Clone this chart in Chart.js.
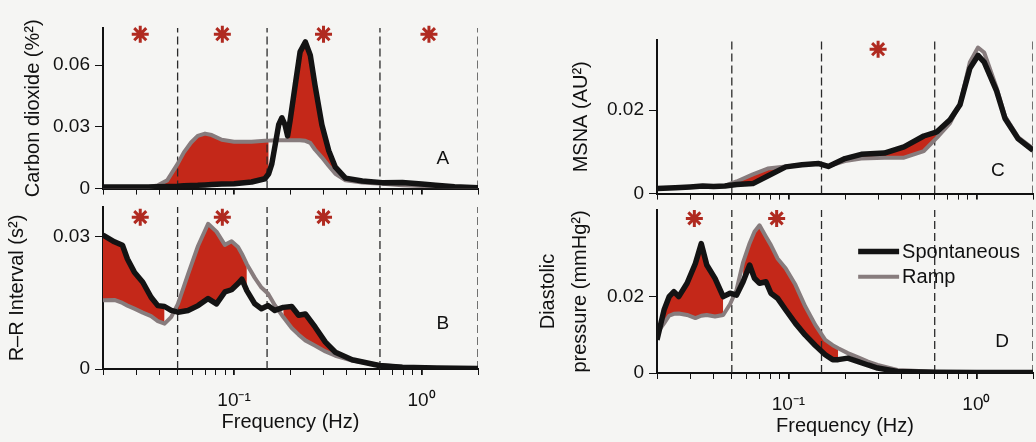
<!DOCTYPE html>
<html><head><meta charset="utf-8">
<script src="https://cdn.jsdelivr.net/npm/chart.js@4.4.1/dist/chart.umd.min.js"></script>
<style>
html,body{margin:0;padding:0;background:#f5f5f3;width:1036px;height:442px;overflow:hidden;position:relative}
canvas{position:absolute}
</style></head><body>
<canvas id="cA" width="482" height="205" style="left:0;top:0"></canvas>
<canvas id="cB" width="492" height="252" style="left:0;top:190px"></canvas>
<canvas id="cC" width="506" height="210" style="left:530px;top:0"></canvas>
<canvas id="cD" width="517" height="252" style="left:530px;top:190px"></canvas>
<script>
// ---------- data ----------
const bandEdges = [0.05, 0.15, 0.6, 2];
const xTickValues = [0.02,0.03,0.04,0.05,0.06,0.07,0.08,0.09,0.1,0.2,0.3,0.4,0.5,0.6,0.7,0.8,0.9,1,2];
const xTickLabels = {0.1: '10\u207B\u00B9', 1: '10\u2070'};

const freqA = [0.02,0.025,0.03,0.035,0.039,0.044,0.05,0.054,0.059,0.064,0.07,0.076,0.086,0.1,0.124,0.146,0.153,0.159,0.166,0.173,0.18,0.187,0.193,0.199,0.212,0.225,0.24,0.255,0.27,0.294,0.32,0.347,0.393,0.483,0.618,0.79,1.0,1.19,1.5,2.0];
const spontA = [0.0008,0.0008,0.0008,0.0008,0.0009,0.001,0.0012,0.0014,0.0015,0.0016,0.0018,0.002,0.0022,0.0024,0.0032,0.0048,0.0072,0.012,0.0216,0.031,0.0344,0.031,0.0256,0.033,0.0504,0.0664,0.0712,0.0648,0.0504,0.031,0.0184,0.0104,0.0051,0.0037,0.0029,0.003,0.0022,0.0016,0.0009,0.0004];
const rampA = [0.0006,0.0006,0.0006,0.0008,0.0015,0.004,0.012,0.0176,0.0224,0.0256,0.0267,0.026,0.0237,0.0228,0.0228,0.0232,0.0233,0.0234,0.0235,0.0235,0.0235,0.0235,0.0235,0.0235,0.0235,0.0235,0.0232,0.0222,0.019,0.0152,0.011,0.0072,0.004,0.003,0.0024,0.0016,0.0013,0.0011,0.0008,0.0005];
const shadeA = [[0.039,0.153],[0.193,0.393]];
const starsA = [0.0316, 0.0866, 0.3, 1.095];
const yTicksA = [0, 0.03, 0.06];
const yTickLabelsA = ['0', '0.03', '0.06'];

const freqB = [0.02,0.023,0.0254,0.027,0.0294,0.0326,0.0361,0.0392,0.0426,0.0462,0.0502,0.0568,0.0643,0.0727,0.0806,0.0893,0.097,0.105,0.11,0.117,0.129,0.14,0.152,0.165,0.183,0.203,0.221,0.24,0.271,0.307,0.347,0.426,0.594,0.79,1.2,2.0];
const spontB = [0.0304,0.0289,0.0281,0.025,0.022,0.0197,0.0163,0.0144,0.0142,0.0133,0.0129,0.0133,0.0144,0.016,0.0148,0.0175,0.018,0.0194,0.0204,0.0178,0.0148,0.0137,0.0144,0.0133,0.014,0.0142,0.0122,0.0125,0.0095,0.0061,0.0038,0.0021,0.0008,0.0004,0.0002,0.0001];
const rampB = [0.0156,0.0157,0.015,0.0144,0.0137,0.0128,0.012,0.0109,0.0103,0.0118,0.0148,0.0215,0.028,0.033,0.0312,0.0282,0.029,0.0277,0.0262,0.0238,0.0207,0.0185,0.0171,0.0145,0.0118,0.0093,0.0078,0.0065,0.0053,0.004,0.003,0.0019,0.0009,0.0005,0.0002,0.0001];
const shadeB = [[0.02,0.0426],[0.0502,0.117],[0.183,0.347]];
const starsB = [0.0316, 0.0866, 0.3];
const yTicksB = [0, 0.03];
const yTickLabelsB = ['0', '0.03'];

const freqC = [0.02,0.025,0.03,0.035,0.04,0.046,0.053,0.0647,0.0776,0.0968,0.118,0.145,0.163,0.2,0.244,0.324,0.412,0.525,0.617,0.724,0.818,0.923,1.02,1.1,1.28,1.42,1.67,2.0];
const spontC = [0.0012,0.0014,0.0016,0.0018,0.0017,0.0018,0.0022,0.0024,0.0042,0.0064,0.0069,0.0072,0.0065,0.0084,0.0094,0.0097,0.0112,0.0138,0.0148,0.0177,0.0213,0.030,0.0331,0.0315,0.0246,0.018,0.0131,0.0104];
const rampC = [0.0012,0.0014,0.0016,0.0017,0.0017,0.0019,0.0029,0.0046,0.006,0.0065,0.0069,0.0073,0.0066,0.0078,0.0084,0.0086,0.0086,0.0102,0.0134,0.0169,0.0215,0.0315,0.035,0.0338,0.0254,0.0185,0.0135,0.0108];
const shadeC = [[0.053,0.0968],[0.2,0.617]];
const starsC = [0.3];
const yTicksC = [0, 0.02];
const yTickLabelsC = ['0', '0.02'];

const freqD = [0.02,0.0218,0.0232,0.0246,0.0261,0.0289,0.032,0.0344,0.0368,0.0407,0.045,0.0489,0.053,0.0574,0.0622,0.066,0.0702,0.076,0.0807,0.0875,0.0968,0.109,0.123,0.139,0.157,0.172,0.184,0.207,0.235,0.265,0.298,0.38,0.6,1.0,2.0];
const spontD = [0.0087,0.0165,0.02,0.0213,0.02,0.0235,0.0287,0.0339,0.0283,0.0248,0.02,0.0209,0.0204,0.0239,0.0283,0.0248,0.0235,0.0239,0.0209,0.0196,0.0165,0.013,0.0099,0.0072,0.0048,0.0035,0.0035,0.0039,0.003,0.0021,0.0013,0.0004,0.0002,0.0001,0.0001];
const rampD = [0.0104,0.013,0.015,0.0155,0.0156,0.0152,0.0144,0.015,0.0152,0.0148,0.0152,0.018,0.0218,0.029,0.034,0.037,0.0387,0.0357,0.0335,0.03,0.0274,0.0231,0.0174,0.0126,0.0087,0.0073,0.0065,0.0052,0.0041,0.003,0.0021,0.0008,0.0003,0.0002,0.0002];
const shadeD = [[0.0218,0.045],[0.0574,0.184]];
const starsD = [0.0316, 0.0866];
const yTicksD = [0, 0.02];
const yTickLabelsD = ['0', '0.02'];

// ---------- styling ----------
const FONT = "'Liberation Sans', Arial, Helvetica, sans-serif";
const RED = '#c42819';
const GREY = '#877c7d';
const BLACK = '#131313';
const STAR = '#b02a20';
Chart.defaults.font.family = FONT;
Chart.defaults.color = '#111';

const panelText = {
  id: 'panelText',
  afterDatasetsDraw(chart, args, opts) {
    const {ctx} = chart, x = chart.scales.x, y = chart.scales.y;
    (opts.items || []).forEach(it => {
      ctx.save();
      ctx.font = '19px ' + FONT;
      ctx.fillStyle = '#111';
      ctx.textAlign = 'center';
      ctx.textBaseline = 'middle';
      ctx.fillText(it.text, x.getPixelForValue(it.x), y.getPixelForValue(it.y));
      ctx.restore();
    });
    if (opts.legend) {
      const L = opts.legend;
      const names = ['Spontaneous', 'Ramp'];
      names.forEach((nm, i) => {
        const ds = chart.data.datasets.find(d => d.label === nm);
        const yy = y.getPixelForValue(L.y[i]);
        ctx.save();
        ctx.strokeStyle = ds.borderColor;
        ctx.lineWidth = ds.borderWidth;
        ctx.beginPath();
        ctx.moveTo(x.getPixelForValue(L.x0), yy);
        ctx.lineTo(x.getPixelForValue(L.x1), yy);
        ctx.stroke();
        ctx.font = '20px ' + FONT;
        ctx.fillStyle = '#111';
        ctx.textAlign = 'left';
        ctx.textBaseline = 'middle';
        ctx.fillText(nm, x.getPixelForValue(L.x1) + 3, yy + 1);
        ctx.restore();
      });
    }
  }
};

function pts(freq, vals) { return freq.map((f, i) => ({x: f, y: vals[i]})); }
function masked(freq, vals, ranges) {
  return freq.map((f, i) => ({x: f, y: ranges.some(r => f >= r[0] - 1e-9 && f <= r[1] + 1e-9) ? vals[i] : null}));
}

function makePanel(id, cfg) {
  const datasets = [
    {label: '_lo', data: masked(cfg.freq, cfg.spont, cfg.shade), borderWidth: 0, pointRadius: 0, fill: false, order: 20, spanGaps: false, borderColor: 'rgba(0,0,0,0)'},
    {label: '_hi', data: masked(cfg.freq, cfg.ramp, cfg.shade), borderWidth: 0, pointRadius: 0, fill: '-1', backgroundColor: RED, order: 19, spanGaps: false, borderColor: 'rgba(0,0,0,0)'}
  ];
  bandEdges.forEach(b => datasets.push({
    label: '_edge', data: [{x: b, y: 0}, {x: b, y: cfg.ymax}], borderColor: '#2a2a2a', borderWidth: 1.3,
    borderDash: [8, 4], pointRadius: 0, fill: false, order: 15
  }));
  datasets.push({label: 'Ramp', data: pts(cfg.freq, cfg.ramp), borderColor: GREY, borderWidth: 4, pointRadius: 0, fill: false, order: 3, borderJoinStyle: 'round', tension: 0});
  datasets.push({label: 'Spontaneous', data: pts(cfg.freq, cfg.spont), borderColor: BLACK, borderWidth: 5.5, pointRadius: 0, fill: false, order: 2, borderJoinStyle: 'round', tension: 0});
  datasets.push({label: '_stars', data: cfg.stars.map(s => ({x: s, y: cfg.starY})), showLine: false, pointStyle: 'star',
    pointRadius: 8.5, borderColor: STAR, backgroundColor: STAR, pointBorderWidth: 3, borderWidth: 3, order: 1, clip: false});

  return new Chart(document.getElementById(id), {
    type: 'line',
    data: {datasets},
    plugins: [panelText],
    options: {
      responsive: false,
      animation: false,
      events: [],
      layout: {autoPadding: false, padding: {top: cfg.padTop, right: cfg.padRight, left: 0, bottom: 0}},
      plugins: {
        legend: {display: false},
        tooltip: {enabled: false},
        panelText: {items: cfg.items, legend: cfg.legend}
      },
      scales: {
        x: {
          type: 'logarithmic', min: 0.02, max: 2,
          border: {display: true, color: '#111', width: 2},
          grid: {display: true, drawOnChartArea: false, drawTicks: true, tickLength: 6, color: '#111',
                 lineWidth: ctx => (ctx.tick && ctx.tick.major) ? 1.8 : 1},
          ticks: {display: cfg.xLabels, autoSkip: false, maxRotation: 0, minRotation: 0, padding: 14,
                  font: {size: 19}, color: '#111',
                  callback: v => xTickLabels[v] !== undefined ? xTickLabels[v] : ''},
          title: {display: cfg.xLabels, text: 'Frequency (Hz)', font: {size: 20}, color: '#111', padding: {top: 0, bottom: cfg.xTitlePad}},
          afterBuildTicks: s => { s.ticks = xTickValues.map(v => ({value: v, major: v === 0.1 || v === 1})); },
          afterFit: s => { s.height = cfg.xH; }
        },
        y: {
          type: 'linear', min: 0, max: cfg.ymax,
          border: {display: true, color: '#111', width: 2},
          grid: {display: true, drawOnChartArea: false, drawTicks: true, tickLength: 8, color: '#111'},
          ticks: {padding: 5, font: {size: 19}, color: '#111',
                  callback: (v) => { const k = cfg.yTicks.indexOf(v); return k >= 0 ? cfg.yTickLabels[k] : ''; }},
          title: {display: true, text: cfg.yTitle, font: {size: 20, lineHeight: cfg.yTitleLH || 1.2}, color: '#111', padding: {top: cfg.yTitlePad, bottom: 0}},
          afterBuildTicks: s => { s.ticks = cfg.yTicks.map(v => ({value: v})); },
          afterFit: s => { s.width = cfg.yW; }
        }
      }
    }
  });
}

makePanel('cA', {freq: freqA, spont: spontA, ramp: rampA, shade: shadeA, stars: starsA, starY: 0.075, ymax: 0.078,
  yTicks: yTicksA, yTickLabels: yTickLabelsA, yTitle: 'Carbon dioxide (%\u00B2)', yTitlePad: 21, yW: 103,
  padTop: 28, padRight: 4, xH: 12, xLabels: false, xTitlePad: 0,
  items: [{text: 'A', x: 1.3, y: 0.0144}]});

makePanel('cB', {freq: freqB, spont: spontB, ramp: rampB, shade: shadeB, stars: starsB, starY: 0.0345, ymax: 0.0368,
  yTicks: yTicksB, yTickLabels: yTickLabelsB, yTitle: 'R\u2013R Interval (s\u00B2)', yTitlePad: 5, yW: 103,
  padTop: 17, padRight: 4, xH: 73, xLabels: true, xTitlePad: 8,
  items: [{text: 'B', x: 1.3, y: 0.0103}]});

makePanel('cC', {freq: freqC, spont: spontC, ramp: rampC, shade: shadeC, stars: starsC, starY: 0.0346, ymax: 0.0368,
  yTicks: yTicksC, yTickLabels: yTickLabelsC, yTitle: 'MSNA (AU\u00B2)', yTitlePad: 39, yW: 127,
  padTop: 40, padRight: 3, xH: 10, xLabels: false, xTitlePad: 0,
  items: [{text: 'C', x: 1.3, y: 0.0054}]});

makePanel('cD', {freq: freqD, spont: spontD, ramp: rampD, shade: shadeD, stars: starsD, starY: 0.0405, ymax: 0.0427,
  yTicks: yTicksD, yTickLabels: yTickLabelsD, yTitle: ['Diastolic', 'pressure (mmHg\u00B2)'], yTitleLH: 1.6, yTitlePad: 2, yW: 127,
  padTop: 20, padRight: 3, xH: 69, xLabels: true, xTitlePad: 4,
  items: [{text: 'D', x: 1.37, y: 0.0083}],
  legend: {x0: 0.235, x1: 0.388, y: [0.0318, 0.0252]}});
</script>
</body></html>
